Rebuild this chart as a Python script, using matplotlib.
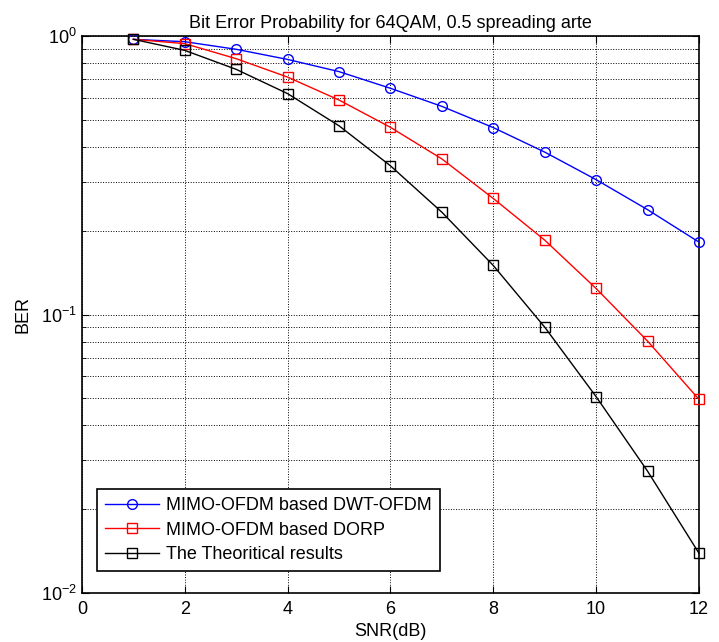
import matplotlib
matplotlib.use('Agg')
import matplotlib.pyplot as plt
import numpy as np
from matplotlib.ticker import LogLocator, MultipleLocator, NullFormatter

plt.rcParams['font.family'] = ['Liberation Sans', 'DejaVu Sans']
plt.rcParams['mathtext.default'] = 'regular'

# SNR values (dB)
snr = [1, 2, 3, 4, 5, 6, 7, 8, 9, 10, 11, 12]

# BER
ber_dwt = [0.973, 0.954, 0.896, 0.824, 0.745, 0.649, 0.559, 0.469, 0.383, 0.305, 0.238, 0.182]
ber_dorp = [0.973, 0.939, 0.829, 0.712, 0.589, 0.470, 0.362, 0.261, 0.185, 0.124, 0.0803, 0.0496]
ber_theory = [0.973, 0.888, 0.759, 0.621, 0.476, 0.342, 0.233, 0.150, 0.0901, 0.0507, 0.0274, 0.0139]

labels = ['MIMO-OFDM based DWT-OFDM', 'MIMO-OFDM based DORP', 'The Theoritical results']

fig = plt.figure(figsize=(7.19, 6.42), dpi=100)
ax = fig.add_axes([0.1140, 0.0763, 0.8581, 0.8676])

style = dict(markersize=7, mfc='none', mew=1, lw=1, clip_on=False, zorder=3)
ax.semilogy(snr, ber_dwt, 'b-o', label=labels[0], **style)
ax.semilogy(snr, ber_dorp, 'r-s', label=labels[1], **style)
ax.semilogy(snr, ber_theory, 'k-s', label=labels[2], **style)

ax.set_xlim(0, 12)
ax.set_ylim(1e-2, 1e0)
ax.xaxis.set_major_locator(MultipleLocator(2))
ax.yaxis.set_major_locator(LogLocator(base=10, numticks=10))
ax.yaxis.set_minor_locator(LogLocator(base=10, subs=np.arange(2, 10), numticks=10))
ax.yaxis.set_minor_formatter(NullFormatter())

ax.tick_params(which='both', direction='in', top=True, right=True, labelsize=13)
ax.tick_params(which='major', length=5)
ax.tick_params(which='minor', length=3)
ax.tick_params(axis='x', pad=6)
ax.grid(True, which='both', color='black', linestyle=':', linewidth=0.7)
for s in ax.spines.values():
    s.set_linewidth(1.2)

ax.set_title('Bit Error Probability for 64QAM, 0.5 spreading arte', fontsize=13, pad=6)
ax.set_xlabel('SNR(dB)', fontsize=13, labelpad=3)
ax.set_ylabel('BER', fontsize=13, labelpad=7)

leg = ax.legend(loc='lower left', bbox_to_anchor=(0.024, 0.0395), borderaxespad=0,
                fancybox=False, framealpha=1, edgecolor='black', fontsize=13,
                handlelength=3.0, handletextpad=0.4, labelspacing=0.4, borderpad=0.45)
leg.get_frame().set_linewidth(1.2)

fig.savefig('out.png', dpi=100)
